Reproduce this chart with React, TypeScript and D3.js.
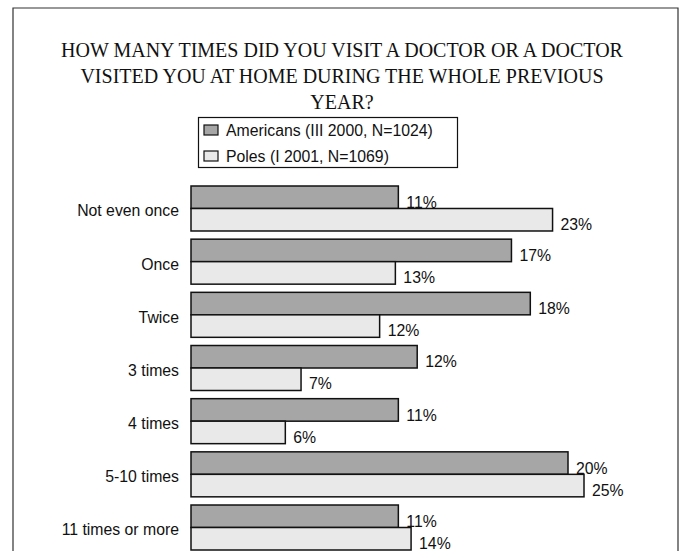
import * as d3 from "d3";
import { useEffect, useRef } from "react";

const categories = [
  "Not even once",
  "Once",
  "Twice",
  "3 times",
  "4 times",
  "5-10 times",
  "11 times or more",
];
const americans = [11, 17, 18, 12, 11, 20, 11];
const poles = [23, 13, 12, 7, 6, 25, 14];
const seriesNames = ["Americans (III 2000, N=1024)", "Poles (I 2001, N=1069)"];
const titleLines = [
  "HOW MANY TIMES DID YOU VISIT A DOCTOR OR A DOCTOR",
  "VISITED YOU AT HOME DURING THE WHOLE PREVIOUS",
  "YEAR?",
];

export default function App() {
  const svgRef = useRef<SVGSVGElement | null>(null);

  useEffect(() => {
    const width = 685;
    const height = 551;
    const colors = ["#a6a6a6", "#e9e9e9"];
    const sans = "'Liberation Sans', Arial, sans-serif";

    const svg = d3.select(svgRef.current);
    svg.selectAll("*").remove();
    svg.attr("width", width).attr("height", height);

    svg.append("rect").attr("width", width).attr("height", height).attr("fill", "#fff");

    // frame (bottom edge is cut off in the original)
    svg
      .append("path")
      .attr("d", `M13,${height + 5}V8H678V${height + 5}`)
      .attr("fill", "none")
      .attr("stroke", "#333")
      .attr("stroke-width", 1.2);

    svg
      .append("g")
      .selectAll("text")
      .data(titleLines)
      .join("text")
      .attr("x", 342)
      .attr("y", (d, i) => 57 + i * 26)
      .attr("text-anchor", "middle")
      .attr("font-family", "'Liberation Serif', 'Times New Roman', serif")
      .attr("font-size", 20)
      .attr("fill", "#111")
      .text((d) => d);

    // legend
    const legend = svg.append("g");
    legend
      .append("rect")
      .attr("x", 198.5)
      .attr("y", 117.5)
      .attr("width", 259)
      .attr("height", 50)
      .attr("fill", "#fff")
      .attr("stroke", "#111")
      .attr("stroke-width", 1.2);
    seriesNames.forEach((name, i) => {
      legend
        .append("rect")
        .attr("x", 204)
        .attr("y", 125 + i * 26)
        .attr("width", 14)
        .attr("height", 10)
        .attr("fill", colors[i])
        .attr("stroke", "#111")
        .attr("stroke-width", 1.2);
      legend
        .append("text")
        .attr("x", 226)
        .attr("y", 136 + i * 26)
        .attr("font-family", sans)
        .attr("font-size", 15.8)
        .attr("fill", "#111")
        .text(name);
    });

    // the source draws each series on its own length scale
    const xAm = d3.scaleLinear().domain([0, 20]).range([191, 568]);
    const xPl = d3.scaleLinear().domain([0, 25]).range([191, 584]);
    const y = d3
      .scaleBand()
      .domain(categories)
      .range([186, 186 + 52 * categories.length])
      .paddingInner(8 / 52)
      .paddingOuter(0)
      .align(0);
    const barH = y.bandwidth() / 2;

    const rows = categories.map((c, i) => ({ c, am: americans[i], pl: poles[i] }));

    const g = svg.append("g");
    const groups = g
      .selectAll("g")
      .data(rows)
      .join("g")
      .attr("transform", (d) => `translate(0,${y(d.c)})`);

    groups
      .append("rect")
      .attr("x", xAm(0))
      .attr("y", 0)
      .attr("width", (d) => xAm(d.am) - xAm(0))
      .attr("height", barH)
      .attr("fill", colors[0])
      .attr("stroke", "#111")
      .attr("stroke-width", 1.5);
    groups
      .append("rect")
      .attr("x", xPl(0))
      .attr("y", barH)
      .attr("width", (d) => xPl(d.pl) - xPl(0))
      .attr("height", barH)
      .attr("fill", colors[1])
      .attr("stroke", "#111")
      .attr("stroke-width", 1.5);

    groups
      .append("text")
      .attr("x", (d) => xAm(d.am) + 8)
      .attr("y", barH - 0.5)
      .attr("font-family", sans)
      .attr("font-size", 15.8)
      .attr("fill", "#111")
      .text((d) => `${d.am}%`);
    groups
      .append("text")
      .attr("x", (d) => xPl(d.pl) + 8)
      .attr("y", barH * 2 - 1)
      .attr("font-family", sans)
      .attr("font-size", 15.8)
      .attr("fill", "#111")
      .text((d) => `${d.pl}%`);

    groups
      .append("text")
      .attr("x", 179)
      .attr("y", barH + 8)
      .attr("text-anchor", "end")
      .attr("font-family", sans)
      .attr("font-size", 15.8)
      .attr("fill", "#111")
      .text((d) => d.c);
  }, []);

  return (
    <svg
      ref={svgRef}
      style={{ position: "absolute", left: 0, top: 0, display: "block" }}
    ></svg>
  );
}
